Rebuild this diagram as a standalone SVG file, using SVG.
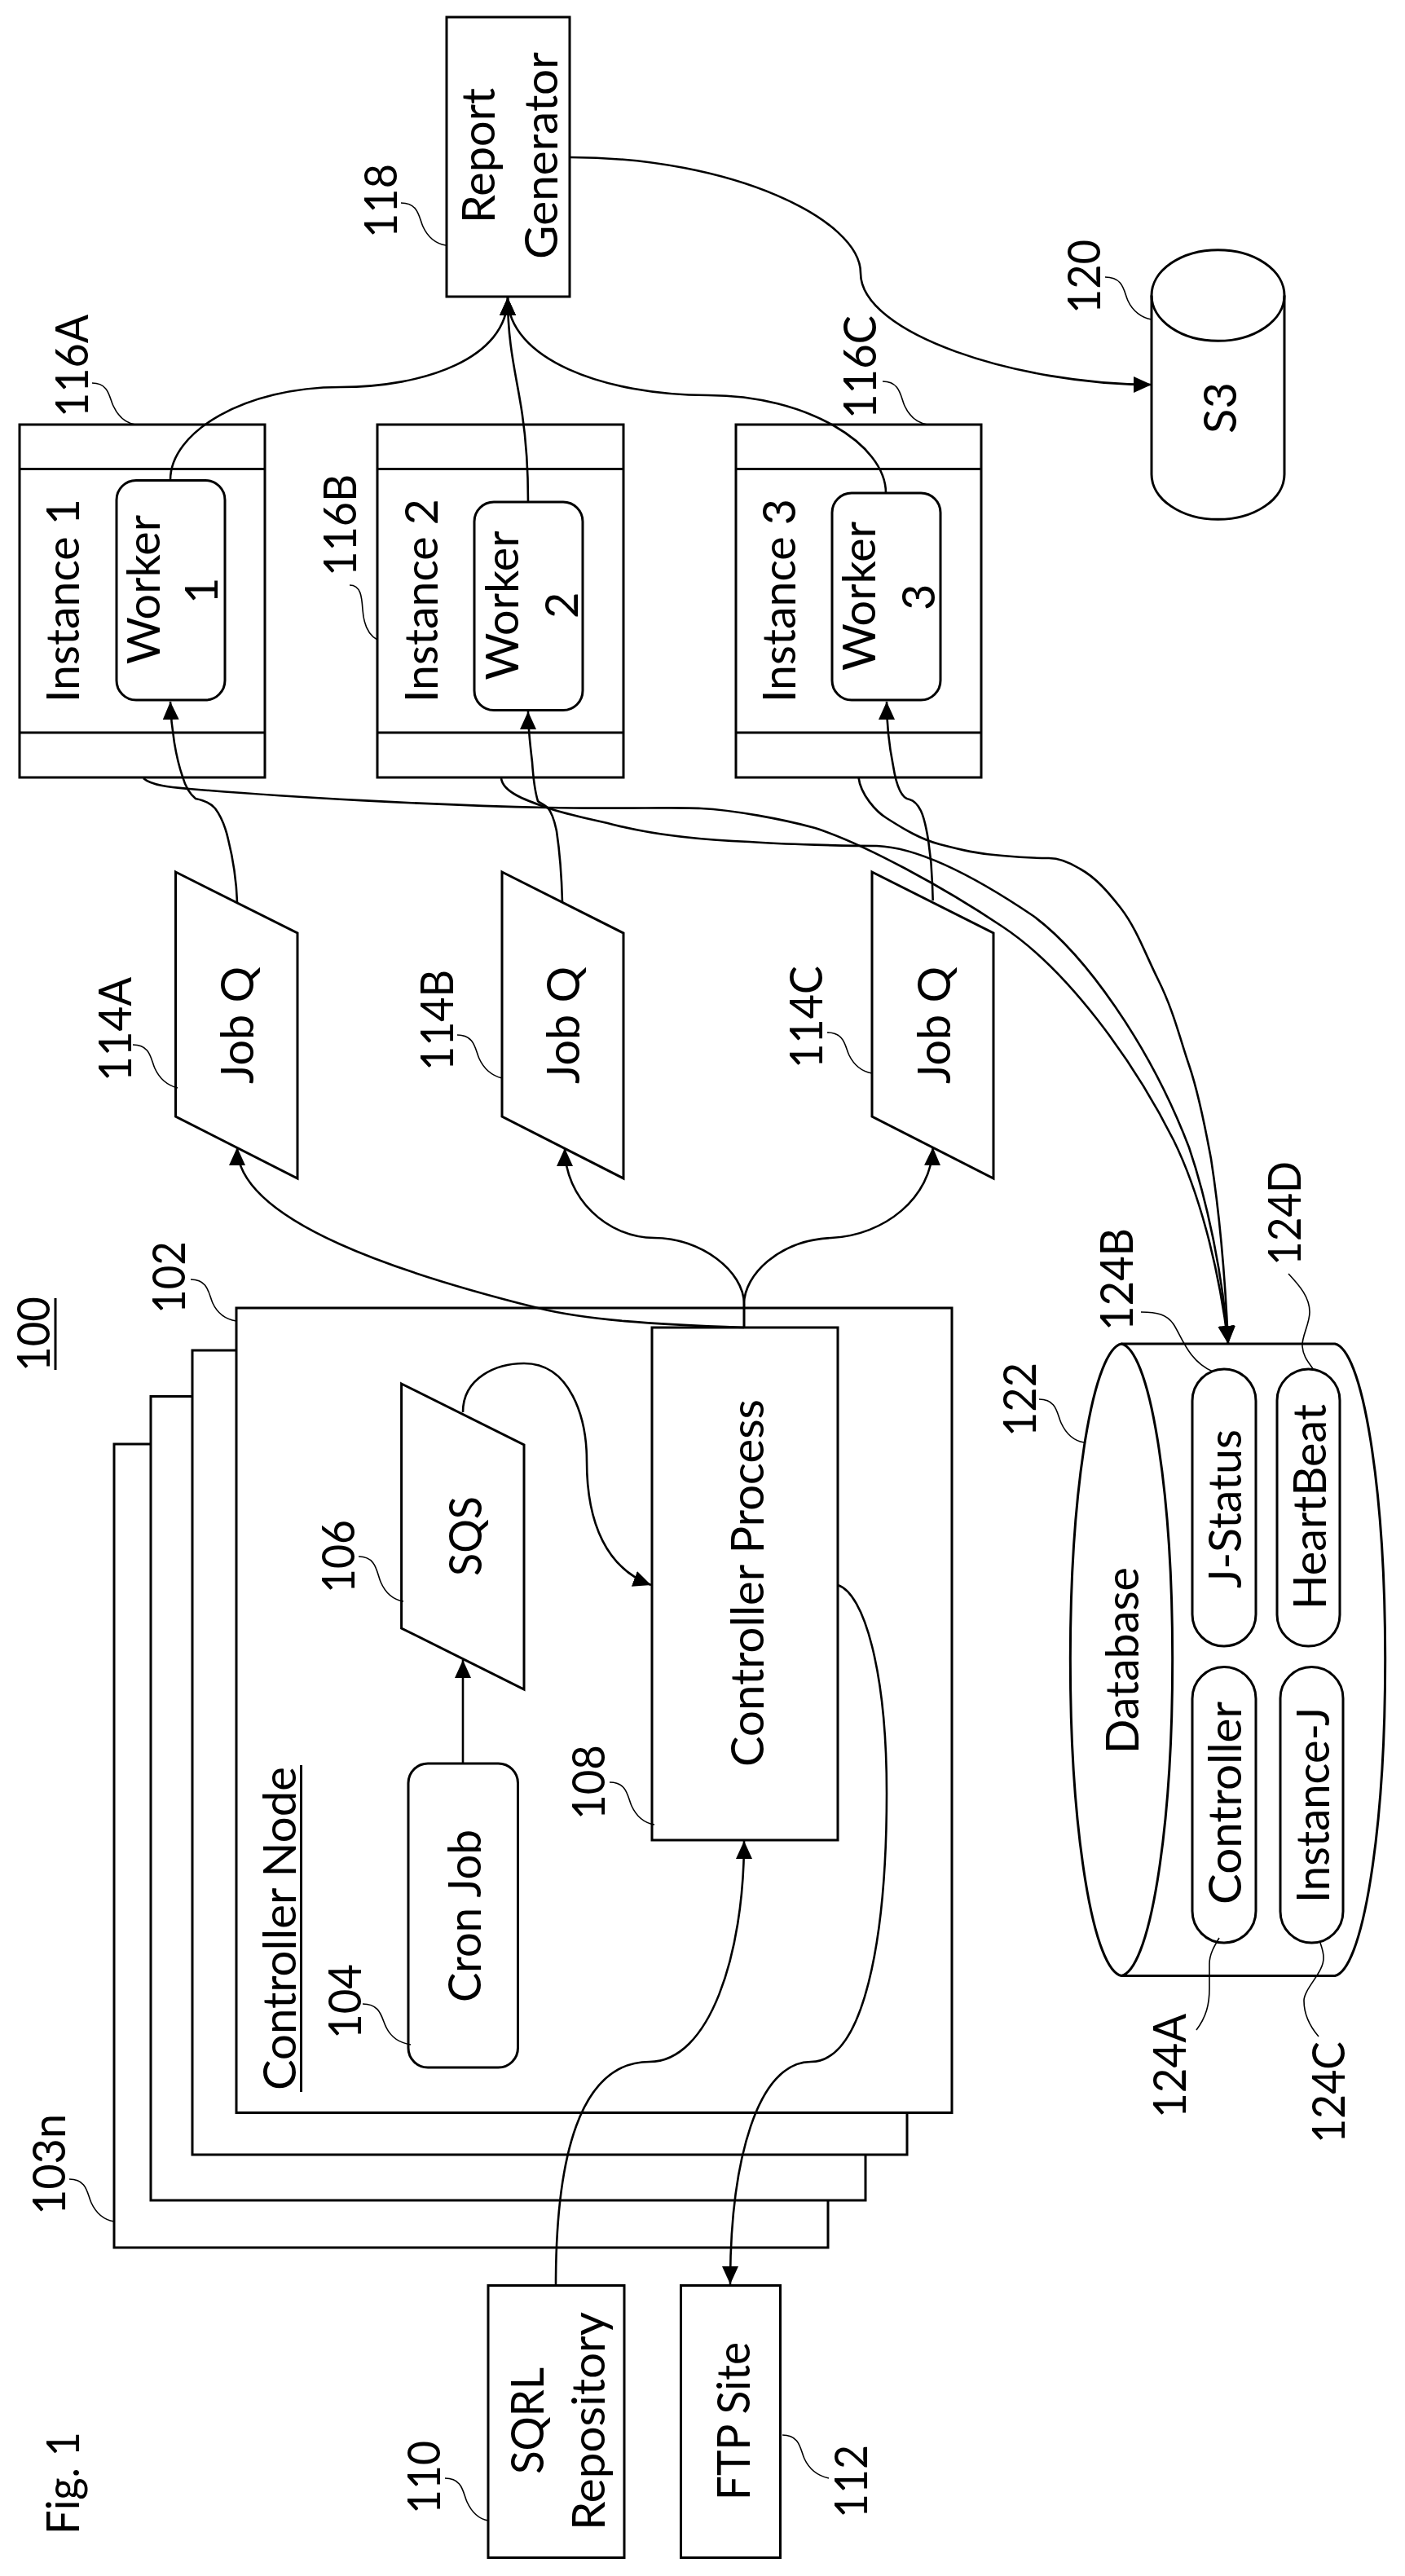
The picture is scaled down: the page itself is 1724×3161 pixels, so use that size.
<svg xmlns="http://www.w3.org/2000/svg" width="1724" height="3161" viewBox="0 0 1724 3161">
<style>
.box{fill:#fff;stroke:#000;stroke-width:3}
.line{fill:none;stroke:#000;stroke-width:3}
.lead{fill:none;stroke:#000;stroke-width:1.6}
.conn{fill:none;stroke:#000;stroke-width:2.6}
.arr{marker-end:url(#a)}
text{font-family:"Lato","Liberation Sans",sans-serif;font-size:56px;fill:#000}
</style>
<defs>
<marker id="a" markerUnits="userSpaceOnUse" markerWidth="24" markerHeight="22" refX="22" refY="10" orient="auto"><path d="M0,0L22,10L0,20z" fill="#000"/></marker>
</defs>
<rect width="1724" height="3161" fill="#fff"/>
<g id="fig-label"><text transform="translate(97,3110) rotate(-90)" textLength="126" lengthAdjust="spacingAndGlyphs">Fig. 1</text></g>
<g id="system-100"><text transform="translate(60.500,1683) rotate(-90)" textLength="92" lengthAdjust="spacingAndGlyphs">100</text><path class="line" d="M68,1593V1681"/></g>
<g id="stack-103n">
<rect class="box" x="140" y="1772" width="876" height="986"/>
<text transform="translate(80,2718) rotate(-90)" textLength="124" lengthAdjust="spacingAndGlyphs">103n</text>
<path class="lead" d="M85,2674c22,0 22,18 27,29c6,13 16,21 28,23"/>
</g>
<g id="stack-3"><rect class="box" x="185" y="1713.500" width="877" height="986.500"/></g>
<g id="stack-2"><rect class="box" x="236" y="1657" width="877" height="987"/></g>
<g id="controller-node">
<rect class="box" x="290" y="1605" width="878" height="987.500"/>
<text transform="translate(363,2565) rotate(-90)" textLength="397" lengthAdjust="spacingAndGlyphs">Controller Node</text>
<path class="line" d="M369.500,2166V2567"/>
<text transform="translate(226.500,1612) rotate(-90)" textLength="89" lengthAdjust="spacingAndGlyphs">102</text>
<path class="lead" d="M234,1570c22,0 22,18 27,29c6,13 16,20 29,22"/>
</g>
<g id="cron-job">
<rect class="box" x="501" y="2164" width="134.500" height="373" rx="24"/>
<text transform="translate(590,2457) rotate(-90)" textLength="212" lengthAdjust="spacingAndGlyphs">Cron Job</text>
<text transform="translate(443,2502) rotate(-90)" textLength="92" lengthAdjust="spacingAndGlyphs">104</text>
<path class="lead" d="M445,2459c23,0 23,18 29,29c6,12 17,19 30,21"/>
</g>
<g id="sqs">
<path class="box" d="M492.600,1698L643,1773V2073L492.600,1998z"/>
<text transform="translate(591,1934) rotate(-90)" textLength="98" lengthAdjust="spacingAndGlyphs">SQS</text>
<text transform="translate(435,1955) rotate(-90)" textLength="90" lengthAdjust="spacingAndGlyphs">106</text>
<path class="lead" d="M440,1910c22,0 22,19 27,31c6,14 16,22 28,24"/>
</g>
<g id="controller-process">
<rect class="box" x="800" y="1629" width="228" height="629"/>
<text transform="translate(937,2168) rotate(-90)" textLength="451" lengthAdjust="spacingAndGlyphs">Controller Process</text>
<text transform="translate(742,2233) rotate(-90)" textLength="92" lengthAdjust="spacingAndGlyphs">108</text>
<path class="lead" d="M748,2187c22,0 22,18 27,29c6,13 16,21 28,23"/>
</g>
<g id="sqrl-repository">
<rect class="box" x="599" y="2804.500" width="167" height="334"/>
<text transform="translate(667,3036) rotate(-90)" textLength="131" lengthAdjust="spacingAndGlyphs">SQRL</text>
<text transform="translate(742,3105) rotate(-90)" textLength="268" lengthAdjust="spacingAndGlyphs">Repository</text>
<text transform="translate(540,3085) rotate(-90)" textLength="90" lengthAdjust="spacingAndGlyphs">110</text>
<path class="lead" d="M546,3041c22,0 22,18 27,29c6,13 14,21 26,23"/>
</g>
<g id="ftp-site">
<rect class="box" x="835.500" y="2804.500" width="122" height="334"/>
<text transform="translate(920,3068) rotate(-90)" textLength="194" lengthAdjust="spacingAndGlyphs">FTP Site</text>
<text transform="translate(1064,3090) rotate(-90)" textLength="90" lengthAdjust="spacingAndGlyphs">112</text>
<path class="lead" d="M960,2988c22,0 22,18 27,29c6,13 16,21 30,24"/>
</g>
<g id="job-q-a">
<path class="box" d="M215.500,1070L365,1145V1446L215.500,1370z"/>
<text transform="translate(311,1330) rotate(-90)" textLength="144" lengthAdjust="spacingAndGlyphs">Job Q</text>
<text transform="translate(160.500,1327) rotate(-90)" textLength="128" lengthAdjust="spacingAndGlyphs">114A</text>
<path class="lead" d="M163,1282c22,0 22,18 27,29c6,13 16,21 28,24"/>
</g>
<g id="job-q-b">
<path class="box" d="M616,1070L765,1145V1446L616,1370z"/>
<text transform="translate(711,1330) rotate(-90)" textLength="144" lengthAdjust="spacingAndGlyphs">Job Q</text>
<text transform="translate(556,1314) rotate(-90)" textLength="124" lengthAdjust="spacingAndGlyphs">114B</text>
<path class="lead" d="M561,1270c22,0 22,18 27,29c6,13 16,21 28,24"/>
</g>
<g id="job-q-c">
<path class="box" d="M1070,1070L1219,1145V1446L1070,1370z"/>
<text transform="translate(1166,1330) rotate(-90)" textLength="144" lengthAdjust="spacingAndGlyphs">Job Q</text>
<text transform="translate(1009,1311) rotate(-90)" textLength="126" lengthAdjust="spacingAndGlyphs">114C</text>
<path class="lead" d="M1015,1267c22,0 22,18 27,28c6,12 16,20 28,22"/>
</g>
<g id="instance-1">
<rect class="box" x="24" y="521" width="301" height="433"/>
<path class="line" d="M24,575.500H325M24,899H325"/>
<text transform="translate(97,862) rotate(-90)" textLength="250" lengthAdjust="spacingAndGlyphs">Instance 1</text>
<text transform="translate(108,512) rotate(-90)" textLength="126" lengthAdjust="spacingAndGlyphs">116A</text>
<path class="lead" d="M113,470c21,0 21,18 26,28c6,13 15,21 27,23"/>
</g>
<g id="worker-1">
<rect class="box" x="143" y="589.500" width="133" height="269.500" rx="24"/>
<text transform="translate(196,815) rotate(-90)" textLength="183" lengthAdjust="spacingAndGlyphs">Worker</text>
<text transform="translate(267,741) rotate(-90)">1</text>
</g>
<g id="instance-2">
<rect class="box" x="463" y="521" width="302" height="433"/>
<path class="line" d="M463,575.500H765M463,899H765"/>
<text transform="translate(536.500,862) rotate(-90)" textLength="250" lengthAdjust="spacingAndGlyphs">Instance 2</text>
<text transform="translate(437,707) rotate(-90)" textLength="125" lengthAdjust="spacingAndGlyphs">116B</text>
<path class="lead" d="M429,718c14,0 15,15 16,30c1,15 5,30 18,37"/>
</g>
<g id="worker-2">
<rect class="box" x="582" y="616" width="133" height="255.500" rx="24"/>
<text transform="translate(635.500,834.500) rotate(-90)" textLength="183" lengthAdjust="spacingAndGlyphs">Worker</text>
<text transform="translate(709,759) rotate(-90)">2</text>
</g>
<g id="instance-3">
<rect class="box" x="903" y="521" width="301" height="433"/>
<path class="line" d="M903,575.500H1204M903,899H1204"/>
<text transform="translate(976,862) rotate(-90)" textLength="250" lengthAdjust="spacingAndGlyphs">Instance 3</text>
<text transform="translate(1075,514) rotate(-90)" textLength="127" lengthAdjust="spacingAndGlyphs">116C</text>
<path class="lead" d="M1083,468c22,0 22,19 27,30c6,13 16,21 28,23"/>
</g>
<g id="worker-3">
<rect class="box" x="1021" y="605" width="133" height="254" rx="24"/>
<text transform="translate(1074,823) rotate(-90)" textLength="183" lengthAdjust="spacingAndGlyphs">Worker</text>
<text transform="translate(1147,749) rotate(-90)">3</text>
</g>
<g id="report-generator">
<rect class="box" x="548" y="21" width="151" height="343"/>
<text transform="translate(607,274) rotate(-90)" textLength="166" lengthAdjust="spacingAndGlyphs">Report</text>
<text transform="translate(684,318) rotate(-90)" textLength="254" lengthAdjust="spacingAndGlyphs">Generator</text>
<text transform="translate(487,292) rotate(-90)" textLength="91" lengthAdjust="spacingAndGlyphs">118</text>
<path class="lead" d="M492,249c22,0 22,18 27,29c6,13 16,21 28,23"/>
</g>
<g id="s3">
<path class="box" d="M1413,362.500A81,55.500 0 0 1 1576,362.500V582A81,55 0 0 1 1413,582z"/>
<path class="line" d="M1413,362.500A81,55.500 0 0 0 1576,362.500"/>
<text transform="translate(1517,532) rotate(-90)">S3</text>
<text transform="translate(1350,385) rotate(-90)" textLength="91" lengthAdjust="spacingAndGlyphs">120</text>
<path class="lead" d="M1356,340c23,0 23,18 28,29c6,13 17,21 29,23"/>
</g>
<g id="database">
<path class="box" d="M1376,1649H1638A64,388 0 0 1 1638,2424.500H1376A65,388 0 0 1 1376,1649z"/>
<path class="line" d="M1376,1649A65,388 0 0 1 1376,2424.500"/>
<text transform="translate(1397,2152) rotate(-90)" textLength="229" lengthAdjust="spacingAndGlyphs">Database</text>
<text transform="translate(1271,1763) rotate(-90)" textLength="91" lengthAdjust="spacingAndGlyphs">122</text>
<path class="lead" d="M1275,1717c22,0 22,18 27,29c6,13 16,22 28,24"/>
</g>
<g id="db-controller">
<rect class="box" x="1463" y="2045.500" width="78" height="338.500" rx="39"/>
<text transform="translate(1523,2337) rotate(-90)" textLength="249" lengthAdjust="spacingAndGlyphs">Controller</text>
<text transform="translate(1454.500,2599) rotate(-90)" textLength="128" lengthAdjust="spacingAndGlyphs">124A</text>
<path class="lead" d="M1468,2491C1480,2475 1484,2460 1484,2440L1484,2410C1484,2398 1490,2388 1496,2378"/>
</g>
<g id="db-j-status">
<rect class="box" x="1463" y="1680" width="78" height="340" rx="39"/>
<text transform="translate(1523,1949) rotate(-90)" textLength="195" lengthAdjust="spacingAndGlyphs">J-Status</text>
<text transform="translate(1390,1633) rotate(-90)" textLength="126" lengthAdjust="spacingAndGlyphs">124B</text>
<path class="lead" d="M1400,1610C1420,1610 1432,1613 1440,1625C1450,1640 1458,1670 1488,1683"/>
</g>
<g id="db-instance-j">
<rect class="box" x="1571" y="2045.500" width="77" height="338.500" rx="38.500"/>
<text transform="translate(1631,2335) rotate(-90)" textLength="240" lengthAdjust="spacingAndGlyphs">Instance-J</text>
<text transform="translate(1650,2630) rotate(-90)" textLength="125" lengthAdjust="spacingAndGlyphs">124C</text>
<path class="lead" d="M1618,2499C1606,2485 1600,2470 1600,2455C1600,2440 1625,2420 1624,2402C1624,2395 1622,2390 1620,2384"/>
</g>
<g id="db-heartbeat">
<rect class="box" x="1567" y="1680" width="77" height="340" rx="38.500"/>
<text transform="translate(1627,1975) rotate(-90)" textLength="252" lengthAdjust="spacingAndGlyphs">HeartBeat</text>
<text transform="translate(1595.500,1553) rotate(-90)" textLength="128" lengthAdjust="spacingAndGlyphs">124D</text>
<path class="lead" d="M1581,1563C1595,1578 1607,1592 1607,1610C1607,1625 1597,1640 1598,1652C1599,1665 1606,1672 1612,1681"/>
</g>
<g id="connectors">
<path class="conn arr" d="M699,193C900,193 1056,270 1056,335C1056,410 1250,472 1413,472"/>
<path class="conn arr" d="M209,589C209,530 300,475 418,475C520,475 623,440 623,365"/>
<path class="conn arr" d="M648,616C648,570 645,530 638,491C632,455 623,420 623,365"/>
<path class="conn arr" d="M1087,605C1087,545 990,485 869,485C740,485 623,440 623,365"/>
<path class="conn arr" d="M291,1107C290,1080 285,1050 280,1030C276,1012 270,1000 264,992C258,985 250,982 240,980C230,972 226,960 224,953C216,930 210,895 209,861"/>
<path class="conn arr" d="M690,1107C689,1070 686,1040 683,1020C680,1005 677,997 672,991C666,986 662,985 660,983C656,970 654,950 653,935C650,910 648,890 648,873"/>
<path class="conn arr" d="M1144.700,1105L1144,1085C1143,1050 1137,1010 1130,995C1125,985 1120,982 1116,981C1107,980 1100,965 1096,940C1092,920 1088,890 1088,861"/>
<path class="conn arr" d="M176,955C186,964 210,966 232,968C350,978 530,988 671,991C760,993 830,990 860,992C900,994 960,1005 1000,1016C1060,1035 1160,1090 1230,1137C1310,1190 1390,1300 1440,1399C1470,1460 1495,1550 1507,1649"/>
<path class="conn arr" d="M615,955C617,972 645,982 671,991C700,1001 730,1006 757,1013C810,1026 870,1031 920,1033C960,1036 1040,1038 1076,1038C1130,1040 1200,1078 1268,1124C1330,1170 1410,1280 1459,1408C1480,1470 1500,1560 1507,1649"/>
<path class="conn arr" d="M1053.500,954C1056,975 1075,996 1088,1004C1110,1018 1130,1030 1153,1036C1180,1043 1200,1048 1230,1050C1250,1052 1270,1053 1287,1053C1300,1053 1312,1058 1325,1066C1345,1077 1360,1095 1375,1114C1395,1140 1405,1170 1421,1202C1440,1240 1448,1275 1459,1307C1472,1345 1480,1390 1486,1422C1495,1480 1503,1560 1507,1649"/>
<path class="conn arr" d="M913,1629C800,1625 720,1620 660,1605C500,1565 291,1500 291,1408"/>
<path class="conn arr" d="M913,1629V1600C913,1560 860,1519 803,1519C745,1519 693,1470 693,1409"/>
<path class="conn arr" d="M913,1629V1600C913,1565 955,1522 1020,1519C1085,1516 1143,1470 1144.700,1408"/>
<path class="conn arr" d="M568,1733C568,1690 610,1673 643,1673C700,1673 720,1740 720,1793C720,1870 745,1925 799,1945"/>
<path class="conn arr" d="M568,2164V2037"/>
<path class="conn arr" d="M682,2804C682,2650 710,2530 797,2530C870,2530 913,2400 913,2259"/>
<path class="conn arr" d="M1028,1945C1060,1955 1088,2050 1088,2200C1088,2380 1060,2530 995,2530C930,2530 896,2650 896,2803"/>
</g>
</svg>
